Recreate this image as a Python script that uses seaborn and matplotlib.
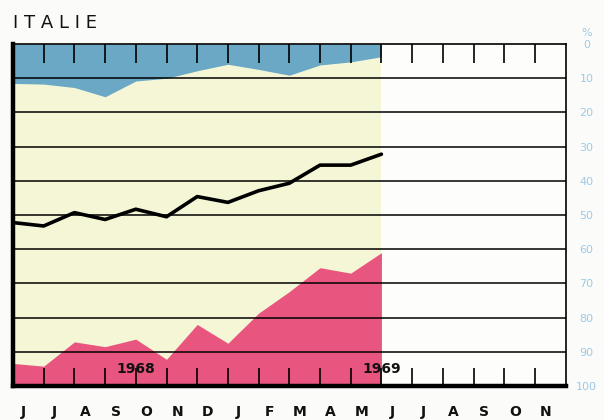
import matplotlib
matplotlib.use("Agg")
import matplotlib.pyplot as plt
import seaborn as sns
import pandas as pd


# mois de juin 1968 a novembre 1969
mois = ["J", "J", "A", "S", "O", "N", "D", "J", "F", "M", "A", "M",
        "J", "J", "A", "S", "O", "N"]

# valeurs en % (axe inverse : 0 en haut, 100 en bas), juin 68 -> juin 69
bleu = [11.5, 11.7, 12.7, 15.4, 10.8, 10.0, 7.8, 5.9, 7.4, 9.1, 6.1, 5.2, 3.7]
courbe = [52.2, 53.2, 49.3, 51.3, 48.3, 50.5, 44.6, 46.3, 42.9, 40.7, 35.4, 35.4, 32.2]
rose = [93.4, 94.2, 87.1, 88.5, 86.3, 92.2, 82.0, 87.5, 78.7, 72.4, 65.4, 67.0, 61.0]

graduations = [0, 10, 20, 30, 40, 50, 60, 70, 80, 90, 100]
annees = {"1968": 4, "1969": 12}


df = pd.DataFrame({"mois": range(len(courbe)), "bleu": bleu,
                   "courbe": courbe, "rose": rose})

sns.set_style("white")

fig = plt.figure(figsize=(6.04, 4.2), dpi=100, facecolor="#fbfbf9")
ax = fig.add_axes([0.0215, 0.081, 0.915, 0.814])
ax.set_facecolor("#fdfdfb")

# zones colorees
ax.fill_between(df["mois"], 0, 100, color="#f4f6d6", lw=0, zorder=1)
ax.fill_between(df["mois"], 0, df["bleu"], color="#6aa8c6", lw=0, zorder=2)
ax.fill_between(df["mois"], df["rose"], 100, color="#e8557f", lw=0, zorder=2)

# lignes horizontales
for g in graduations[1:-1]:
    ax.axhline(g, color="black", lw=1.1, zorder=3)

# petits traits des mois en haut et en bas
n = len(mois)
ax.vlines(range(1, n), 0, 5.5, color="black", lw=1.2, zorder=3)
ax.vlines(range(1, n), 94.8, 100, color="black", lw=1.2, zorder=3)

sns.lineplot(data=df, x="mois", y="courbe", color="black", lw=2.6,
             ax=ax, zorder=4)

for txt, pos in annees.items():
    ax.text(pos, 95, txt, ha="center", va="center", fontsize=10,
            fontweight="bold", color="#111111", zorder=5)

ax.set_xlim(0, n)
ax.set_ylim(100, 0)
ax.set_xlabel("")
ax.set_ylabel("")

ax.set_xticks([i + 0.35 for i in range(n)])
ax.set_xticklabels(mois, fontsize=10, fontweight="bold", color="#111111")
ax.tick_params(axis="x", length=0, pad=14)

ax.yaxis.tick_right()
ax.set_yticks(graduations)
ax.set_yticklabels([str(g) for g in graduations], fontsize=8,
                   color="#9ccae6", ha="center")
ax.tick_params(axis="y", length=0, pad=15)
ax.text(1.038, 1.032, "%", transform=ax.transAxes, fontsize=8,
        color="#9ccae6", ha="center", va="center")

for side in ["top", "right"]:
    ax.spines[side].set_visible(True)
    ax.spines[side].set_color("black")
    ax.spines[side].set_linewidth(1.2)
for side in ["left", "bottom"]:
    ax.spines[side].set_color("black")
    ax.spines[side].set_linewidth(3.2)
for sp in ax.spines.values():
    sp.set_zorder(6)

fig.text(0.0215, 0.945, "I T A L I E", fontsize=13, color="#111111",
         ha="left", va="center")

fig.savefig("out.png", dpi=100, facecolor=fig.get_facecolor())
